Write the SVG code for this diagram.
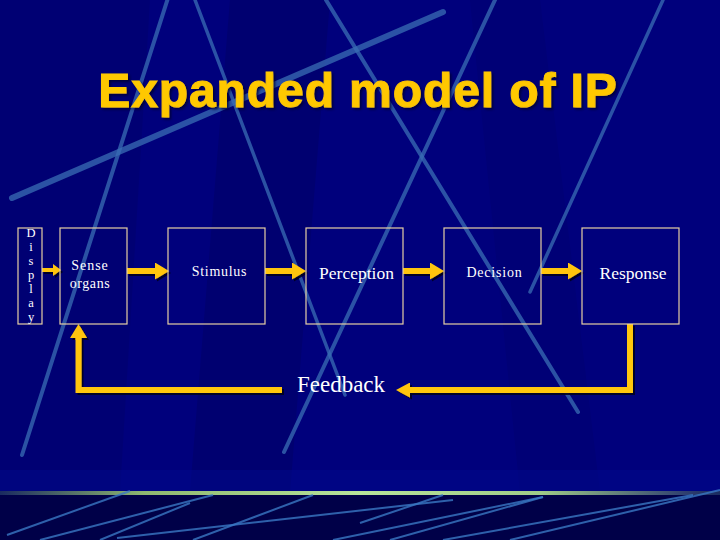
<svg xmlns="http://www.w3.org/2000/svg" width="720" height="540" viewBox="0 0 720 540">
<defs>
<style>
.streak{stroke:#3A6DB4;stroke-linecap:round;fill:none;opacity:0.75}
.bstreak{stroke:#3A78C4;stroke-width:2;fill:none;opacity:0.8}
.box{fill:none;stroke:#E6CFA4;stroke-width:1.2}
.lbl{font-family:"Liberation Serif","Times New Roman",serif;fill:#FFFFFF}
.conn{stroke:#FFC510;fill:none;stroke-linejoin:miter}
</style>
<linearGradient id="green" x1="0" y1="0" x2="1" y2="0">
<stop offset="0" stop-color="#1A2A60"/>
<stop offset="0.2" stop-color="#8FB870"/>
<stop offset="0.5" stop-color="#B8E49A"/>
<stop offset="0.75" stop-color="#A0CC88"/>
<stop offset="0.95" stop-color="#304070"/>
<stop offset="1" stop-color="#1A2A60"/>
</linearGradient>
<filter id="sh" x="-10%" y="-10%" width="130%" height="130%">
<feDropShadow dx="2" dy="2" stdDeviation="0.6" flood-color="#00001E" flood-opacity="0.9"/>
</filter>
<filter id="tsh" x="-5%" y="-10%" width="115%" height="130%">
<feDropShadow dx="2" dy="2" stdDeviation="0.8" flood-color="#000030" flood-opacity="0.8"/>
</filter>
<marker id="ahS" markerUnits="userSpaceOnUse" markerWidth="8" markerHeight="12" refX="0" refY="6" orient="auto">
<path d="M0,0 L8,6 L0,12 z" fill="#FFC510"/>
</marker>
<marker id="ah" markerUnits="userSpaceOnUse" markerWidth="14" markerHeight="17" refX="0" refY="8.5" orient="auto">
<path d="M0,0 L14,8.5 L0,17 z" fill="#FFC510"/>
</marker>
<marker id="ahF" markerUnits="userSpaceOnUse" markerWidth="14" markerHeight="15" refX="0" refY="7.5" orient="auto">
<path d="M0,0 L14,7.5 L0,15 z" fill="#FFC510"/>
</marker>
</defs>

<!-- background -->
<rect x="0" y="0" width="720" height="492" fill="#00007C"/>
<polygon points="0,0 150,0 120,492 0,492" fill="#00006E" opacity="0.6"/>
<polygon points="230,0 330,0 290,492 190,492" fill="#000066" opacity="0.55"/>
<polygon points="470,0 540,0 600,492 520,492" fill="#000070" opacity="0.5"/>
<rect x="0" y="470" width="720" height="22" fill="#000A8C" opacity="0.5"/>
<rect x="0" y="495" width="720" height="45" fill="#000048"/>

<!-- upper streaks -->
<line class="streak" x1="168" y1="-2" x2="22" y2="455" stroke-width="4"/>
<line class="streak" x1="195" y1="0" x2="345" y2="395" stroke-width="3.5"/>
<line class="streak" x1="326" y1="0" x2="578" y2="412" stroke-width="4"/>
<line class="streak" x1="495" y1="0" x2="284" y2="452" stroke-width="4"/>
<line class="streak" x1="663" y1="0" x2="530" y2="292" stroke-width="3.5"/>
<line class="streak" x1="443" y1="12" x2="12" y2="198" stroke-width="6"/>

<!-- bottom band -->
<rect x="0" y="491" width="720" height="4" fill="url(#green)"/>
<g>
<line class="bstreak" x1="7" y1="535" x2="130" y2="491"/>
<line class="bstreak" x1="40" y1="540" x2="213" y2="495"/>
<line class="bstreak" x1="100" y1="540" x2="190" y2="503"/>
<line class="bstreak" x1="117" y1="538" x2="453" y2="500"/>
<line class="bstreak" x1="193" y1="540" x2="313" y2="495"/>
<line class="bstreak" x1="333" y1="540" x2="543" y2="497"/>
<line class="bstreak" x1="360" y1="523" x2="443" y2="495"/>
<line class="bstreak" x1="390" y1="540" x2="543" y2="497"/>
<line class="bstreak" x1="443" y1="540" x2="693" y2="495"/>
<line class="bstreak" x1="510" y1="540" x2="720" y2="490"/>
</g>

<!-- title -->
<text x="358" y="107" text-anchor="middle" font-family="'Liberation Sans',Arial,sans-serif" font-weight="bold" font-size="48" letter-spacing="0.9" fill="#FFC800" stroke="#FFC800" stroke-width="1" filter="url(#tsh)">Expanded model of IP</text>

<!-- connectors -->
<g id="connectors" class="conn" filter="url(#sh)">
<line x1="42" y1="270" x2="53" y2="270" stroke-width="4" marker-end="url(#ahS)"/>
<line x1="127" y1="271" x2="155" y2="271" stroke-width="6" marker-end="url(#ah)"/>
<line x1="265" y1="271" x2="292" y2="271" stroke-width="6" marker-end="url(#ah)"/>
<line x1="403" y1="271" x2="430" y2="271" stroke-width="6" marker-end="url(#ah)"/>
<line x1="541" y1="271" x2="568" y2="271" stroke-width="6" marker-end="url(#ah)"/>
<path d="M630,324 V390 H410" stroke-width="6" marker-end="url(#ahF)"/>
<path d="M282,390 H78.5 V338" stroke-width="6" marker-end="url(#ah)"/>
</g>

<!-- nodes -->
<g id="display">
<rect class="box" x="18" y="228" width="24" height="96"/>
<g class="lbl" font-size="12.5" text-anchor="middle">
<text x="31" y="237">D</text>
<text x="31" y="251">i</text>
<text x="31" y="265">s</text>
<text x="31" y="279">p</text>
<text x="31" y="293">l</text>
<text x="31" y="307">a</text>
<text x="31" y="321">y</text>
</g>
</g>
<g id="sense-organs">
<rect class="box" x="60" y="228" width="67" height="96"/>
<text class="lbl" x="90" y="270" font-size="14" letter-spacing="1" text-anchor="middle">Sense</text>
<text class="lbl" x="90" y="288" font-size="14" letter-spacing="0.6" text-anchor="middle">organs</text>
</g>
<g id="stimulus">
<rect class="box" x="168" y="228" width="97" height="96"/>
<text class="lbl" x="219.5" y="276" font-size="14" letter-spacing="0.7" text-anchor="middle">Stimulus</text>
</g>
<g id="perception">
<rect class="box" x="306" y="228" width="97" height="96"/>
<text class="lbl" x="356.5" y="279" font-size="17.5" text-anchor="middle">Perception</text>
</g>
<g id="decision">
<rect class="box" x="444" y="228" width="97" height="96"/>
<text class="lbl" x="494.5" y="277" font-size="14" letter-spacing="0.8" text-anchor="middle">Decision</text>
</g>
<g id="response">
<rect class="box" x="582" y="228" width="97" height="96"/>
<text class="lbl" x="633" y="279" font-size="17.5" text-anchor="middle">Response</text>
</g>
<g id="feedback">
<text class="lbl" x="341" y="392" font-size="23" text-anchor="middle">Feedback</text>
</g>
</svg>
